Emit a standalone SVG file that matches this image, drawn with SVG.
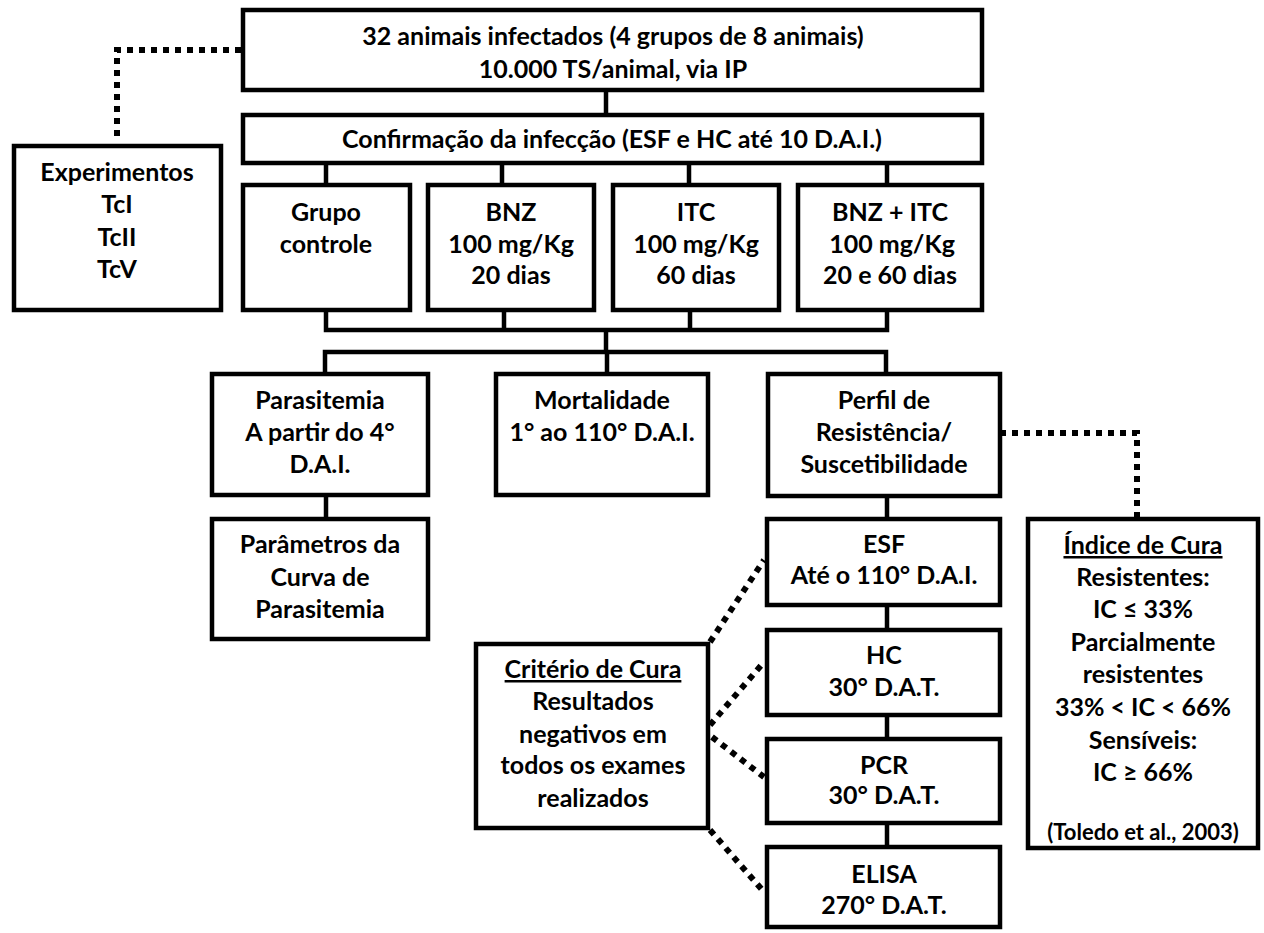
<svg xmlns="http://www.w3.org/2000/svg" width="1264" height="933" viewBox="0 0 1264 933">
<style>
.box{fill:#fff;stroke:#000;stroke-width:4.5}
.ln{fill:none;stroke:#000;stroke-width:4.5}
.dot{fill:none;stroke:#000;stroke-width:6;stroke-dasharray:6 6}
text{font-family:Lato,"Liberation Sans",sans-serif;font-weight:bold;font-size:25px;text-anchor:middle;fill:#000}
.u{text-decoration:underline}
</style>
<rect width="1264" height="933" fill="#fff"/>
<g id="connectors">
<path class="ln" d="M606 92V114"/>
<path class="ln" d="M326 165V185M502 165V185M689 165V185M887 165V185"/>
<path class="ln" d="M326 310V330H887V310M504 310V330M690 310V330"/>
<path class="ln" d="M606 330V352"/>
<path class="ln" d="M325 374V352H886V374M607 352V374"/>
<path class="ln" d="M326 495V519"/>
<path class="ln" d="M887 496V519M887 605V630M887 715V739M887 823V847"/>
<path class="dot" d="M241 50H117V137"/>
<path class="dot" d="M1000 433H1137V517"/>
<path class="dot" d="M710 642L764 560M710 725L764 662M712 737L764 777M710 830L764 892"/>
</g>
<g id="n1"><rect class="box" x="243" y="10" width="739" height="80"/><text x="613" y="45">32 animais infectados (4 grupos de 8 animais)</text><text x="613" y="78">10.000 TS/animal, via IP</text></g>
<g id="n2"><rect class="box" x="243" y="115" width="739" height="48"/><text x="612" y="148">Confirmação da infecção (ESF e HC até 10 D.A.I.)</text></g>
<g id="n3"><rect class="box" x="14" y="146" width="207" height="164"/><text x="117" y="181">Experimentos</text><text x="117" y="213">TcI</text><text x="117" y="246">TcII</text><text x="117" y="278">TcV</text></g>
<g id="n4"><rect class="box" x="243" y="185" width="167" height="125"/><text x="326" y="221">Grupo</text><text x="326" y="253">controle</text></g>
<g id="n5"><rect class="box" x="428" y="185" width="166" height="125"/><text x="511" y="221">BNZ</text><text x="511" y="253">100 mg/Kg</text><text x="511" y="284">20 dias</text></g>
<g id="n6"><rect class="box" x="613" y="185" width="166" height="125"/><text x="696" y="221">ITC</text><text x="696" y="253">100 mg/Kg</text><text x="696" y="284">60 dias</text></g>
<g id="n7"><rect class="box" x="798" y="185" width="184" height="125"/><text x="890" y="221">BNZ + ITC</text><text x="892" y="253">100 mg/Kg</text><text x="890" y="284">20 e 60 dias</text></g>
<g id="n8"><rect class="box" x="212" y="374" width="216" height="121"/><text x="320" y="409">Parasitemia</text><text x="320" y="441">A partir do 4°</text><text x="320" y="473">D.A.I.</text></g>
<g id="n9"><rect class="box" x="496" y="374" width="212" height="121"/><text x="602" y="409">Mortalidade</text><text x="602" y="441">1° ao 110° D.A.I.</text></g>
<g id="n10"><rect class="box" x="768" y="374" width="232" height="122"/><text x="884" y="409">Perfil de</text><text x="884" y="441">Resistência/</text><text x="884" y="473">Suscetibilidade</text></g>
<g id="n11"><rect class="box" x="212" y="519" width="216" height="120"/><text x="320" y="553">Parâmetros da</text><text x="320" y="586">Curva de</text><text x="320" y="618">Parasitemia</text></g>
<g id="n12"><rect class="box" x="767" y="519" width="233" height="86"/><text x="884" y="553">ESF</text><text x="884" y="584">Até o 110° D.A.I.</text></g>
<g id="n13"><rect class="box" x="767" y="630" width="233" height="85"/><text x="884" y="664">HC</text><text x="884" y="696">30° D.A.T.</text></g>
<g id="n14"><rect class="box" x="767" y="739" width="233" height="84"/><text x="884" y="774">PCR</text><text x="884" y="804">30° D.A.T.</text></g>
<g id="n15"><rect class="box" x="767" y="847" width="233" height="80"/><text x="884" y="883">ELISA</text><text x="884" y="914">270° D.A.T.</text></g>
<g id="n16"><rect class="box" x="476" y="644" width="232" height="184"/><text class="u" x="593" y="678">Critério de Cura</text><text x="593" y="710">Resultados</text><text x="593" y="743">negativos em</text><text x="593" y="774">todos os exames</text><text x="593" y="807">realizados</text></g>
<g id="n17"><rect class="box" x="1028" y="519" width="230" height="329"/><text class="u" x="1143" y="554">Índice de Cura</text><text x="1143" y="586">Resistentes:</text><text x="1143" y="618">IC ≤ 33%</text><text x="1143" y="651">Parcialmente</text><text x="1143" y="683">resistentes</text><text x="1143" y="716">33% &lt; IC &lt; 66%</text><text x="1143" y="749">Sensíveis:</text><text x="1143" y="781">IC ≥ 66%</text><text x="1143" y="840" style="font-size:22px">(Toledo et al., 2003)</text></g>
</svg>
